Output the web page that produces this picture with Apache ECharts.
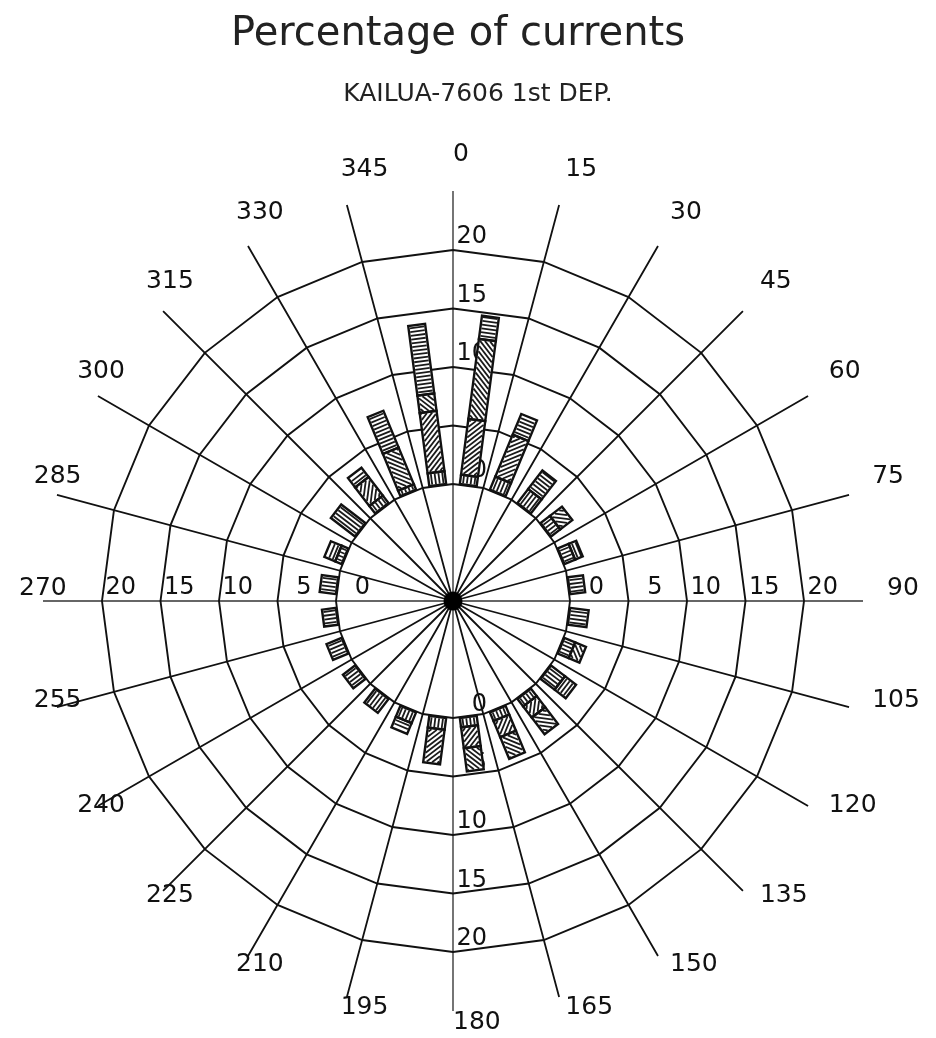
<!DOCTYPE html>
<html>
<head>
<meta charset="utf-8">
<title>Percentage of currents</title>
<script src="https://cdn.jsdelivr.net/npm/echarts@6/dist/echarts.min.js"></script>
<style>
html, body { margin: 0; padding: 0; background: #fff; }
#rose { width: 936px; height: 1038px; }
</style>
</head>
<body>
<div id="rose"></div>
<script>
// centre of each 15 degree direction bin
var sectors = [7.5, 22.5, 37.5, 52.5, 67.5, 82.5, 97.5, 112.5, 127.5, 142.5, 157.5, 172.5,
               187.5, 202.5, 217.5, 232.5, 247.5, 262.5, 277.5, 292.5, 307.5, 322.5, 337.5, 352.5];
// percent of currents per bin, stacked outward by speed class
var speedA = [0.8, 1.2, 1.5, 1.0, 1.0, 1.3, 1.6, 1.0, 1.5, 0.8, 0.8, 0.8,
              1.0, 1.0, 1.5, 1.3, 1.4, 1.2, 1.4, 0.6, 2.6, 0.8, 0.5, 1.1];
var speedB = [4.8, 3.9, 0, 1.3, 0, 0, 0, 1.0, 0, 1.2, 1.5, 1.8,
              3.0, 0, 0, 0, 0, 0, 0, 0, 0, 2.0, 0, 5.2];
var speedC = [6.9, 0, 0, 0, 0, 0, 0, 0, 0, 1.8, 2.0, 2.0,
              0, 0, 0, 0, 0, 0, 0, 0, 0, 0, 3.4, 1.5];
var speedD = [2.0, 1.9, 2.0, 0, 0.7, 0, 0, 0, 1.2, 0, 0, 0,
              0, 1.0, 0, 0, 0, 0, 0, 1.0, 0, 1.0, 3.4, 6.0];
// ring tick labels and the directions they are written along
var ringTicks = [0, 5, 10, 15, 20];
var ringTickDirs = [0, 90, 180, 270];
// compass labels at the end of the spokes
var dirValues = [0, 15, 30, 45, 60, 75, 90, 105, 120, 135, 150, 165,
                 180, 195, 210, 225, 240, 255, 270, 285, 300, 315, 330, 345];
var dirLabels = ['0', '15', '30', '45', '60', '75', '90', '105', '120', '135', '150', '165',
                 '180', '195', '210', '225', '240', '255', '270', '285', '300', '315', '330', '345'];

var FONT = 'DejaVu Sans';
var CENTER = [453, 601];
var BAR_W = 17, GAP = 3.8;

var barData = sectors.map(function (s, i) {
    return [s, speedA[i], speedB[i], speedC[i], speedD[i]];
});
var ringData = [];
ringTickDirs.forEach(function (d) {
    ringTicks.forEach(function (t) { ringData.push([t, d]); });
});
var dirData = dirValues.map(function (d, i) { return { value: [434, d], name: dirLabels[i] }; });

// hatch segments inside a box (u along the bar, v across it)
function hatch(kind, u0, u1, vmin, vmax) {
    var out = [], c, va, vb, s = GAP * Math.SQRT2;
    if (kind === 0) {
        for (var v = vmin + GAP / 2; v < vmax; v += GAP) out.push([[u0, v], [u1, v]]);
    } else if (kind === 3) {
        for (var u = u0 + GAP / 2; u < u1; u += GAP) out.push([[u, vmin], [u, vmax]]);
    } else if (kind === 1) {
        for (c = u0 - vmax + s / 2; c < u1 - vmin; c += s) {
            va = Math.max(vmin, u0 - c); vb = Math.min(vmax, u1 - c);
            if (vb > va) out.push([[c + va, va], [c + vb, vb]]);
        }
    } else {
        for (c = u0 + vmin + s / 2; c < u1 + vmax; c += s) {
            va = Math.max(vmin, c - u1); vb = Math.min(vmax, c - u0);
            if (vb > va) out.push([[c - va, va], [c - vb, vb]]);
        }
    }
    return out;
}

function renderBar(params, api) {
    var ang = api.value(0);
    var base = api.coord([0, ang]);
    var far = api.coord([20, ang]);
    var dx = far[0] - base[0], dy = far[1] - base[1];
    var len = Math.sqrt(dx * dx + dy * dy);
    var ux = dx / len, uy = dy / len, per = len / 20;
    var nx = -uy, ny = ux, hw = BAR_W / 2;
    function pt(u, v) { return [base[0] + ux * u + nx * v, base[1] + uy * u + ny * v]; }
    var fills = [], lines = [], edges = [];
    var acc = 0;
    for (var k = 0; k < 4; k++) {
        var val = api.value(k + 1);
        if (!val) continue;
        var u0 = acc * per, u1 = (acc + val) * per;
        acc += val;
        var box = [pt(u0, -hw), pt(u1, -hw), pt(u1, hw), pt(u0, hw)];
        fills.push({ type: 'polygon', shape: { points: box }, style: { fill: '#fff' } });
        hatch(k, u0 + 1.2, u1 - 1.2, -hw + 1.2, hw - 1.2).forEach(function (h) {
            var a = pt(h[0][0], h[0][1]), b = pt(h[1][0], h[1][1]);
            lines.push({ type: 'line', shape: { x1: a[0], y1: a[1], x2: b[0], y2: b[1] },
                style: { stroke: '#1a1a1a', lineWidth: 1.8 } });
        });
        edges.push({ type: 'polygon', shape: { points: box },
            style: { fill: null, stroke: '#111', lineWidth: 2.4 } });
    }
    return { type: 'group', children: fills.concat(lines, edges) };
}

var chart = echarts.init(document.getElementById('rose'));
var option = {
    backgroundColor: '#fff',
    animation: false,
    title: [
        {
            text: 'Percentage of currents',
            left: 453, top: 10, textAlign: 'center',
            textStyle: { fontFamily: FONT, fontSize: 40, fontWeight: 'normal', color: '#222' }
        },
        {
            text: 'KAILUA-7606 1st DEP.',
            left: 473, top: 77, textAlign: 'center',
            textStyle: { fontFamily: FONT, fontSize: 25, fontWeight: 'normal', color: '#222' }
        }
    ],
    radar: {
        center: CENTER,
        radius: [117, 351],
        startAngle: 90,
        splitNumber: 4,
        shape: 'polygon',
        indicator: dirValues.map(function () { return { name: '', min: 0, max: 20 }; }),
        axisName: { show: false },
        axisLine: { show: false },
        axisTick: { show: false },
        axisLabel: { show: false },
        splitArea: { show: false },
        splitLine: { lineStyle: { color: '#111', width: 1.9 } }
    },
    polar: [
        { center: CENTER, radius: [117, 351] },
        { center: CENTER, radius: [0, 410] }
    ],
    angleAxis: [
        { polarIndex: 0, type: 'value', min: 0, max: 360, startAngle: 90, clockwise: true, show: false },
        {
            polarIndex: 1, type: 'value', min: 0, max: 360, interval: 15, startAngle: 90, clockwise: true,
            axisLine: { show: false }, axisTick: { show: false }, axisLabel: { show: false },
            splitLine: { show: true, lineStyle: { color: ['#666', '#111', '#111', '#111', '#111', '#111'], width: 1.8 } }
        }
    ],
    radiusAxis: [
        { polarIndex: 0, type: 'value', min: 0, max: 20, show: false },
        { polarIndex: 1, type: 'value', min: 0, max: 410, show: false }
    ],
    series: [
        {
            type: 'scatter', coordinateSystem: 'polar', polarIndex: 0, silent: true, z: 1, clip: false,
            symbolSize: 0, encode: { radius: 0, angle: 1 }, data: ringData,
            itemStyle: { opacity: 1 },
            label: {
                show: true, position: [34, -1], align: 'right', verticalAlign: 'bottom',
                formatter: function (p) { return String(p.value[0]); },
                fontFamily: FONT, fontSize: 24, color: '#111', opacity: 1
            }
        },
        {
            type: 'scatter', coordinateSystem: 'polar', polarIndex: 1, silent: true, z: 1, clip: false,
            symbolSize: 0, encode: { radius: 0, angle: 1 }, data: dirData,
            itemStyle: { opacity: 1 },
            label: {
                show: true, position: [0, 0], align: 'left', verticalAlign: 'bottom',
                formatter: function (p) { return p.name; },
                fontFamily: FONT, fontSize: 25, color: '#111', opacity: 1
            }
        },
        {
            type: 'custom', coordinateSystem: 'polar', polarIndex: 0, silent: true, z: 3,
            encode: { angle: 0, radius: 1 }, data: barData, renderItem: renderBar
        },
        {
            type: 'scatter', coordinateSystem: 'polar', polarIndex: 1, silent: true, z: 4,
            symbolSize: 19, itemStyle: { color: '#000', opacity: 1 }, encode: { radius: 0, angle: 1 },
            data: [[0, 0]]
        }
    ]
};
chart.setOption(option);
</script>
</body>
</html>
